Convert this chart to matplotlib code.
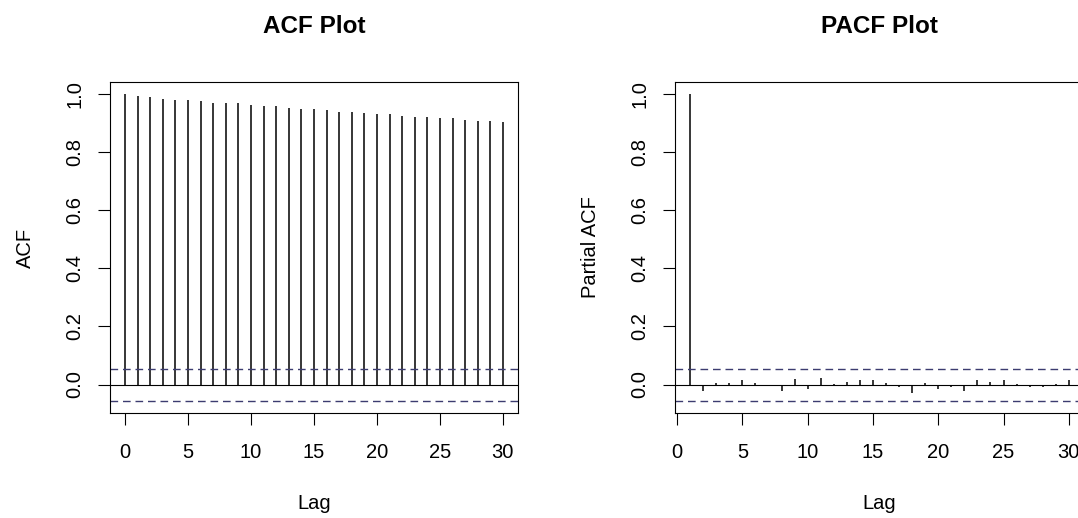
import numpy as np
import matplotlib
matplotlib.use("Agg")
import matplotlib.pyplot as plt

plt.rcParams['font.family'] = ['Liberation Sans', 'DejaVu Sans']

# ACF values, lag 0..30
acf_lags = np.arange(0, 31)
acf_vals = [1.000, 0.995, 0.991, 0.985, 0.981, 0.981, 0.977, 0.971, 0.968, 0.968,
            0.963, 0.958, 0.958, 0.954, 0.949, 0.949, 0.944, 0.940, 0.939, 0.935,
            0.931, 0.931, 0.926, 0.921, 0.921, 0.917, 0.917, 0.912, 0.907, 0.907,
            0.903]

# PACF values, lag 1..30
pacf_lags = np.arange(1, 31)
pacf_vals = [1.000, -0.022, 0.004, 0.004, 0.017, 0.004, 0.000, -0.023, 0.019, -0.017,
             0.023, 0.001, 0.009, 0.014, 0.014, 0.005, -0.010, -0.028, 0.005, -0.017,
             -0.008, -0.022, 0.014, 0.009, 0.014, 0.001, -0.010, -0.008, 0.001, 0.014]

conf = 0.055  # 95% band
ci_color = "#3c3c70"

fig = plt.figure(figsize=(10.78, 5.18), dpi=100)
ax1 = fig.add_axes([110/1078, 1 - 413/518, 408/1078, 331/518])
ax2 = fig.add_axes([675/1078, 1 - 413/518, 409/1078, 331/518])


def draw(ax, lags, vals, title, ylabel, xlim):
    ax.vlines(lags, 0, vals, color="black", linewidth=1.1)
    ax.axhline(0, color="black", linewidth=0.8)
    ax.axhline(conf, color=ci_color, linewidth=1.0, dashes=(5.5, 3.5))
    ax.axhline(-conf, color=ci_color, linewidth=1.0, dashes=(5.5, 3.5))
    ax.set_xlim(xlim)
    ax.set_ylim(-0.098, 1.042)
    ax.set_xticks([0, 5, 10, 15, 20, 25, 30])
    ax.set_yticks([0.0, 0.2, 0.4, 0.6, 0.8, 1.0])
    ax.set_yticklabels(["0.0", "0.2", "0.4", "0.6", "0.8", "1.0"],
                       rotation=90, va="center")
    ax.tick_params(direction="out", length=8.6, width=0.8, labelsize=14.5, color="black")
    ax.tick_params(axis="x", pad=13)
    ax.tick_params(axis="y", pad=10)
    for s in ax.spines.values():
        s.set_linewidth(0.8)
    ax.set_title(title, fontsize=17.5, fontweight="bold", pad=35)
    ax.set_xlabel("Lag", fontsize=14.5, labelpad=23)
    ax.set_ylabel(ylabel, fontsize=14.5, labelpad=22)


draw(ax1, acf_lags, acf_vals, "ACF Plot", "ACF", (-1.2, 31.2))
draw(ax2, pacf_lags, pacf_vals, "PACF Plot", "Partial ACF", (-0.16, 31.16))

fig.savefig("out.png", dpi=100)
